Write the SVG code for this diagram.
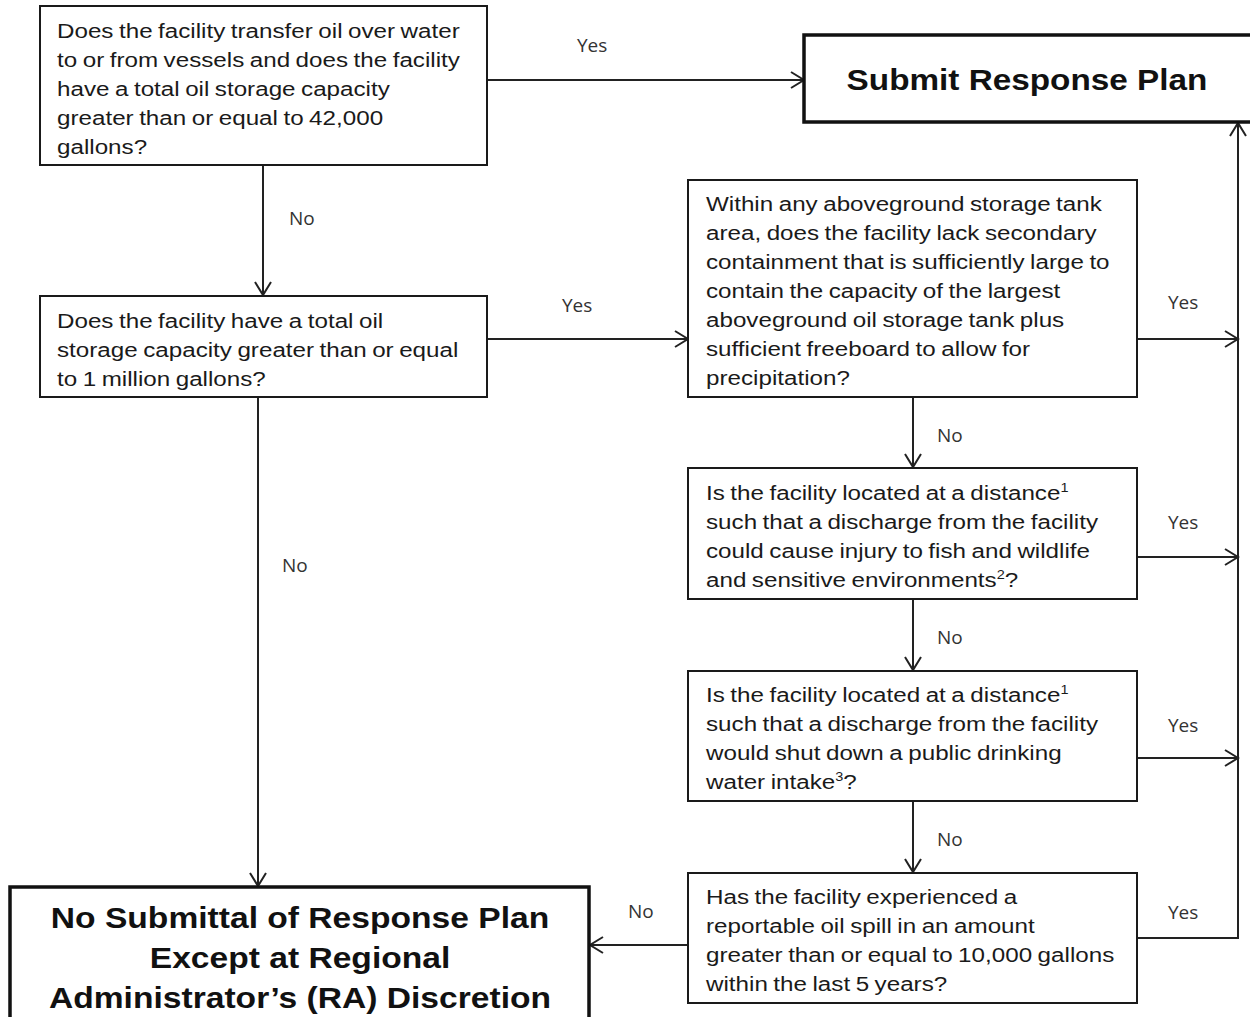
<svg xmlns="http://www.w3.org/2000/svg" width="1250" height="1017" viewBox="0 0 1250 1017">
<defs>
<marker id="arr" markerUnits="userSpaceOnUse" markerWidth="16" markerHeight="20" refX="14" refY="10" orient="auto" viewBox="0 0 16 20">
<path d="M1,2 L14,10 L1,18" fill="none" stroke="#222" stroke-width="2"/>
</marker>
<style>
.box{fill:#fff;stroke:#1a1a1a;stroke-width:2}
.bbox{fill:#fff;stroke:#111;stroke-width:3.5}
.t{font-family:"Liberation Sans",Arial,sans-serif;font-size:20px;fill:#1a1a1a;word-spacing:-1px}
.b{font-family:"Liberation Sans",Arial,sans-serif;font-size:30px;font-weight:bold;fill:#111;text-anchor:middle}
.l{font-family:"Open Sans","Liberation Sans",sans-serif;font-size:19px;fill:#333}
.c{fill:none;stroke:#222;stroke-width:2}
.sup{font-size:12px}
</style>
</defs>
<rect width="1250" height="1017" fill="#fff"/>
<g id="connectors">
<line class="c" x1="487" y1="80" x2="804" y2="80" marker-end="url(#arr)"/>
<line class="c" x1="263" y1="165" x2="263" y2="295" marker-end="url(#arr)"/>
<line class="c" x1="487" y1="339" x2="688" y2="339" marker-end="url(#arr)"/>
<line class="c" x1="258" y1="397" x2="258" y2="886" marker-end="url(#arr)"/>
<line class="c" x1="913" y1="397" x2="913" y2="467" marker-end="url(#arr)"/>
<line class="c" x1="913" y1="599" x2="913" y2="670" marker-end="url(#arr)"/>
<line class="c" x1="913" y1="801" x2="913" y2="872" marker-end="url(#arr)"/>
<line class="c" x1="1137" y1="339" x2="1238" y2="339" marker-end="url(#arr)"/>
<line class="c" x1="1137" y1="557" x2="1238" y2="557" marker-end="url(#arr)"/>
<line class="c" x1="1137" y1="758" x2="1238" y2="758" marker-end="url(#arr)"/>
<polyline class="c" points="1137,938 1238,938 1238,123" marker-end="url(#arr)"/>
<line class="c" x1="688" y1="945" x2="590" y2="945" marker-end="url(#arr)"/>
<text class="l" x="577" y="52">Yes</text>
<text class="l" x="289" y="225">No</text>
<text class="l" x="562" y="312">Yes</text>
<text class="l" x="282" y="572">No</text>
<text class="l" x="1168" y="309">Yes</text>
<text class="l" x="937" y="442">No</text>
<text class="l" x="1168" y="529">Yes</text>
<text class="l" x="937" y="644">No</text>
<text class="l" x="1168" y="732">Yes</text>
<text class="l" x="937" y="846">No</text>
<text class="l" x="1168" y="919">Yes</text>
<text class="l" x="628" y="918">No</text>
</g>
<g id="q1">
<rect class="box" x="40" y="6" width="447" height="159"/>
<g transform="translate(57,0) scale(1.21,1)">
<text class="t" x="0" y="38">Does the facility transfer oil over water</text>
<text class="t" x="0" y="67">to or from vessels and does the facility</text>
<text class="t" x="0" y="96">have a total oil storage capacity</text>
<text class="t" x="0" y="125">greater than or equal to 42,000</text>
<text class="t" x="0" y="154">gallons?</text>
</g>
</g>
<g id="submit">
<rect class="bbox" x="804" y="35" width="460" height="87"/>
<text class="b" transform="translate(1027,0) scale(1.11,1)" x="0" y="90">Submit Response Plan</text>
</g>
<g id="q2">
<rect class="box" x="40" y="296" width="447" height="101"/>
<g transform="translate(57,0) scale(1.21,1)">
<text class="t" x="0" y="328">Does the facility have a total oil</text>
<text class="t" x="0" y="357">storage capacity greater than or equal</text>
<text class="t" x="0" y="386">to 1 million gallons?</text>
</g>
</g>
<g id="q3">
<rect class="box" x="688" y="180" width="449" height="217"/>
<g transform="translate(706,0) scale(1.21,1)">
<text class="t" x="0" y="211">Within any aboveground storage tank</text>
<text class="t" x="0" y="240">area, does the facility lack secondary</text>
<text class="t" x="0" y="269">containment that is sufficiently large to</text>
<text class="t" x="0" y="298">contain the capacity of the largest</text>
<text class="t" x="0" y="327">aboveground oil storage tank plus</text>
<text class="t" x="0" y="356">sufficient freeboard to allow for</text>
<text class="t" x="0" y="385">precipitation?</text>
</g>
</g>
<g id="q4">
<rect class="box" x="688" y="468" width="449" height="131"/>
<g transform="translate(706,0) scale(1.21,1)">
<text class="t" x="0" y="500">Is the facility located at a distance<tspan class="sup" dy="-8">1</tspan></text>
<text class="t" x="0" y="529">such that a discharge from the facility</text>
<text class="t" x="0" y="558">could cause injury to fish and wildlife</text>
<text class="t" x="0" y="587">and sensitive environments<tspan class="sup" dy="-8">2</tspan><tspan dy="8">?</tspan></text>
</g>
</g>
<g id="q5">
<rect class="box" x="688" y="671" width="449" height="130"/>
<g transform="translate(706,0) scale(1.21,1)">
<text class="t" x="0" y="702">Is the facility located at a distance<tspan class="sup" dy="-8">1</tspan></text>
<text class="t" x="0" y="731">such that a discharge from the facility</text>
<text class="t" x="0" y="760">would shut down a public drinking</text>
<text class="t" x="0" y="789">water intake<tspan class="sup" dy="-8">3</tspan><tspan dy="8">?</tspan></text>
</g>
</g>
<g id="q6">
<rect class="box" x="688" y="873" width="449" height="130"/>
<g transform="translate(706,0) scale(1.21,1)">
<text class="t" x="0" y="904">Has the facility experienced a</text>
<text class="t" x="0" y="933">reportable oil spill in an amount</text>
<text class="t" x="0" y="962">greater than or equal to 10,000 gallons</text>
<text class="t" x="0" y="991">within the last 5 years?</text>
</g>
</g>
<g id="nosubmit">
<rect class="bbox" x="10" y="887" width="579" height="140"/>
<g transform="translate(300,0) scale(1.12,1)">
<text class="b" x="0" y="928">No Submittal of Response Plan</text>
<text class="b" x="0" y="968">Except at Regional</text>
<text class="b" x="0" y="1008">Administrator’s (RA) Discretion</text>
</g>
</g>
</svg>
